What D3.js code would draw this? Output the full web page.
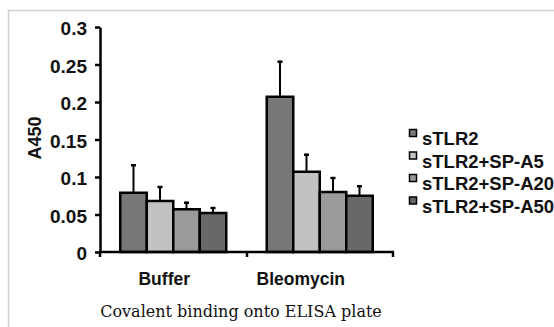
<!DOCTYPE html>
<html>
<head>
<meta charset="utf-8">
<script src="https://cdn.jsdelivr.net/npm/d3@7"></script>
<style>
  body { margin: 0; background: #fff; }
  text { font-family: "Liberation Sans", Arial, sans-serif; font-weight: bold; fill: #111; }
  .caption { font-family: "DejaVu Serif", "Liberation Serif", serif; font-weight: normal; }
</style>
</head>
<body>
<div id="chart"></div>
<script>
// data
var categories = ["Buffer", "Bleomycin"];
var seriesNames = ["sTLR2", "sTLR2+SP-A5", "sTLR2+SP-A20", "sTLR2+SP-A50"];
var means = [
  [0.079, 0.207],   // sTLR2
  [0.068, 0.107],   // sTLR2+SP-A5
  [0.057, 0.080],   // sTLR2+SP-A20
  [0.052, 0.075]    // sTLR2+SP-A50
];
var errors = [
  [0.038, 0.048],
  [0.020, 0.024],
  [0.010, 0.020],
  [0.008, 0.014]
];
var yTicks = [0, 0.05, 0.1, 0.15, 0.2, 0.25, 0.3];
var colors = ["#787878", "#c2c2c2", "#9a9a9a", "#686868"];

var W = 554, H = 327;
var svg = d3.select("#chart").append("svg")
  .attr("width", W).attr("height", H);

// light frame (top and left only visible)
svg.append("path")
  .attr("d", "M8.5," + H + "V10.5H" + W)
  .attr("fill", "none").attr("stroke", "#d0d0d0").attr("stroke-width", 1.5);

var x0 = d3.scaleBand().domain(categories).range([100, 393]).paddingInner(0).paddingOuter(0);
var x1 = d3.scaleBand().domain(seriesNames).range([0, 106]);
var y = d3.scaleLinear().domain([0, 0.3]).range([252, 27]);

// bars
var groups = svg.selectAll(".grp").data(categories).enter().append("g")
  .attr("transform", function (d) { return "translate(" + (x0(d) + x0.bandwidth() / 2 - 53) + ",0)"; });

groups.each(function (cat, ci) {
  var g = d3.select(this);
  seriesNames.forEach(function (s, si) {
    var v = means[si][ci], e = errors[si][ci];
    var bx = x1(s), bw = x1.bandwidth();
    // error bar (upper only)
    g.append("line")
      .attr("x1", bx + bw / 2).attr("x2", bx + bw / 2)
      .attr("y1", y(v)).attr("y2", y(v + e))
      .attr("stroke", "#000").attr("stroke-width", 2);
    g.append("line")
      .attr("x1", bx + bw / 2 - 2.5).attr("x2", bx + bw / 2 + 2.5)
      .attr("y1", y(v + e) + 1).attr("y2", y(v + e) + 1)
      .attr("stroke", "#000").attr("stroke-width", 2.5);
    g.append("rect")
      .attr("x", bx).attr("width", bw)
      .attr("y", y(v)).attr("height", y(0) - y(v))
      .attr("fill", colors[si]).attr("stroke", "#000").attr("stroke-width", 2.5);
  });
});

// y axis
var yAxis = d3.axisLeft(y).tickValues(yTicks).tickFormat(d3.format("")).tickSizeInner(5).tickSizeOuter(0).tickPadding(8);
var ya = svg.append("g").attr("transform", "translate(100,0)").call(yAxis);
ya.select(".domain").attr("stroke", "#000").attr("stroke-width", 2.5);
ya.selectAll(".tick line").attr("stroke", "#000").attr("stroke-width", 2.5);
ya.selectAll(".tick text").style("font-size", "19px").attr("dy", "0.42em").attr("font-family", null);

// x axis
svg.append("line").attr("x1", 98.8).attr("x2", 394).attr("y1", 252).attr("y2", 252)
  .attr("stroke", "#000").attr("stroke-width", 2.5);
[100, 247, 393].forEach(function (t) {
  svg.append("line").attr("x1", t).attr("x2", t).attr("y1", 252).attr("y2", 257)
    .attr("stroke", "#000").attr("stroke-width", 2.5);
});

// category labels
svg.selectAll(".cat").data(categories).enter().append("text")
  .attr("class", "cat")
  .attr("x", function (d, i) { return x0(d) + x0.bandwidth() / 2 - (i === 0 ? 9 : 19); })
  .attr("y", 285)
  .attr("text-anchor", "middle")
  .style("font-size", "17.5px")
  .text(function (d) { return d; });

svg.append("text").attr("class", "caption")
  .attr("x", 241).attr("y", 317).attr("text-anchor", "middle")
  .style("font-size", "16px")
  .text("Covalent binding onto ELISA plate");

// y label
svg.append("text")
  .attr("transform", "translate(41,138) rotate(-90)")
  .attr("text-anchor", "middle")
  .style("font-size", "18px")
  .text("A450");

// legend
var leg = svg.selectAll(".leg").data(seriesNames).enter().append("g")
  .attr("transform", function (d, i) { return "translate(409," + (145 + i * 22.5) + ")"; });
leg.append("rect").attr("x", 0.5).attr("y", -15.5).attr("width", 7).attr("height", 7)
  .attr("fill", function (d, i) { return colors[i]; })
  .attr("stroke", "#000").attr("stroke-width", 1.5);
leg.append("text").attr("x", 13).attr("y", 0)
  .style("font-size", "18.5px")
  .text(function (d) { return d; });
</script>
</body>
</html>
